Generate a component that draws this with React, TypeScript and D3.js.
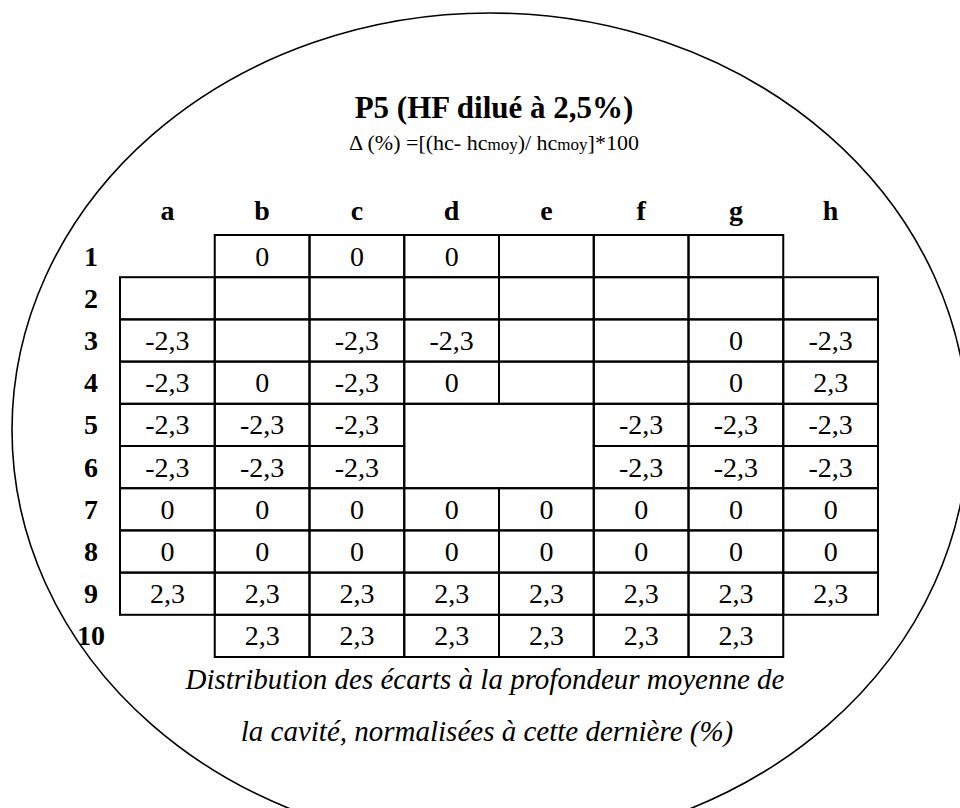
import React from "react";
import * as d3 from "d3";

// column letters and row numbers of the wafer grid
const columns = ["a", "b", "c", "d", "e", "f", "g", "h"];
const rowLabels = ["1", "2", "3", "4", "5", "6", "7", "8", "9", "10"];

// cell values per row: null = no cell, "" = empty cell, "M" = part of merged block
const row1 = [null, "0", "0", "0", "", "", "", null];
const row2 = ["", "", "", "", "", "", "", ""];
const row3 = ["-2,3", "", "-2,3", "-2,3", "", "", "0", "-2,3"];
const row4 = ["-2,3", "0", "-2,3", "0", "", "", "0", "2,3"];
const row5 = ["-2,3", "-2,3", "-2,3", "M", "M", "-2,3", "-2,3", "-2,3"];
const row6 = ["-2,3", "-2,3", "-2,3", "M", "M", "-2,3", "-2,3", "-2,3"];
const row7 = ["0", "0", "0", "0", "0", "0", "0", "0"];
const row8 = ["0", "0", "0", "0", "0", "0", "0", "0"];
const row9 = ["2,3", "2,3", "2,3", "2,3", "2,3", "2,3", "2,3", "2,3"];
const row10 = [null, "2,3", "2,3", "2,3", "2,3", "2,3", "2,3", null];
const rows = [row1, row2, row3, row4, row5, row6, row7, row8, row9, row10];

// merged empty block in the middle (d-e, rows 5-6)
const mergedCols = ["d", "e"];
const mergedRows = ["5", "6"];

const title = "P5 (HF dilué à 2,5%)";
const caption1 = "Distribution des écarts à la profondeur moyenne de";
const caption2 = "la cavité, normalisées à cette dernière (%)";

const W = 960;
const H = 808;
const serif = "Liberation Serif, Times New Roman, serif";

export default function App() {
  const x = d3.scaleBand().domain(columns).range([120, 878]);
  const y = d3.scaleBand().domain(rowLabels).range([235, 657]);
  const bw = x.bandwidth();
  const bh = y.bandwidth();

  const cells: { col: string; row: string; v: string }[] = [];
  rows.forEach((r, i) =>
    r.forEach((v, j) => {
      if (v !== null) cells.push({ col: columns[j], row: rowLabels[i], v });
    })
  );

  const mx = x(mergedCols[0])!;
  const my = y(mergedRows[0])!;
  const mw = x(mergedCols[mergedCols.length - 1])! + bw - mx;
  const mh = y(mergedRows[mergedRows.length - 1])! + bh - my;

  return (
    <svg
      width={W}
      height={H}
      style={{ position: "absolute", left: 0, top: 0, background: "#fff", fontFamily: serif }}
    >
      <ellipse cx={490} cy={430} rx={478} ry={417} fill="none" stroke="#000" strokeWidth={1.6} />

      <text x={494} y={118} textAnchor="middle" fontSize={31} fontWeight="bold">
        {title}
      </text>
      <text x={494} y={150} textAnchor="middle" fontSize={22}>
        Δ (%) =[(hc- hc<tspan fontSize={17}>moy</tspan>)/ hc<tspan fontSize={17}>moy</tspan>]*100
      </text>

      {columns.map((c) => (
        <text key={c} x={x(c)! + bw / 2} y={220} textAnchor="middle" fontSize={28} fontWeight="bold">
          {c}
        </text>
      ))}
      {rowLabels.map((r) => (
        <text key={r} x={91} y={y(r)! + bh / 2} dy="0.34em" textAnchor="middle" fontSize={28} fontWeight="bold">
          {r}
        </text>
      ))}

      {cells
        .filter((d) => d.v !== "M")
        .map((d) => (
          <g key={d.col + d.row}>
            <rect x={x(d.col)} y={y(d.row)} width={bw} height={bh} fill="none" stroke="#000" strokeWidth={2} />
            <text x={x(d.col)! + bw / 2} y={y(d.row)! + bh / 2} dy="0.34em" textAnchor="middle" fontSize={28}>
              {d.v}
            </text>
          </g>
        ))}
      <rect x={mx} y={my} width={mw} height={mh} fill="none" stroke="#000" strokeWidth={2} />

      <text x={485} y={689} textAnchor="middle" fontSize={29} fontStyle="italic">
        {caption1}
      </text>
      <text x={487} y={741} textAnchor="middle" fontSize={29} fontStyle="italic">
        {caption2}
      </text>
    </svg>
  );
}
